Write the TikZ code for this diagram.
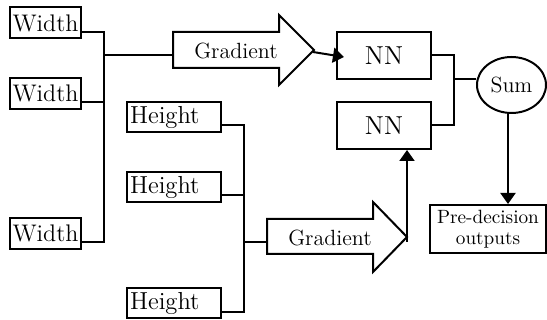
\documentclass[tikz,border=0pt]{standalone}
\usetikzlibrary{shapes.geometric,arrows.meta}
\begin{document}
\begin{tikzpicture}[x=0.5pt,y=-0.5pt,line width=1pt,
  box/.style={draw,rectangle,inner sep=0pt},
  wbox/.style={box,minimum width=35.5pt,minimum height=15.5pt,font=\fontsize{12}{14}\selectfont},
  hbox/.style={box,minimum height=15pt,text width=44pt,inner xsep=1.5pt,align=left,font=\fontsize{12.3}{14}\selectfont},
  nnbox/.style={box,minimum width=47pt,minimum height=23.5pt,font=\fontsize{13}{15}\selectfont},
  gtext/.style={inner sep=0pt,font=\fontsize{11}{13}\selectfont},
  arr/.style={-{Triangle[length=5.5pt,width=7.5pt]}}]
\useasboundingbox (0,0) rectangle (547,320);

% input boxes
\node[wbox] (W1) at (45.5,23) {Width};
\node[wbox] (W2) at (45.5,93.5) {Width};
\node[wbox] (W3) at (45.5,233.5) {Width};
\node[hbox] (H1) at (174,117) {Height};
\node[hbox] (H2) at (174,187) {Height};
\node[hbox] (H3) at (174,303.5) {Height};

% networks, sum and output
\node[nnbox] (NN1) at (384,55.5) {NN};
\node[nnbox] (NN2) at (384,125.5) {NN};
\node[draw,ellipse,inner sep=0pt,minimum width=34.5pt,minimum height=28pt,
      font=\fontsize{11}{13}\selectfont] (Sum) at (511.5,85) {Sum};
\node[box,minimum width=58pt,minimum height=24pt,align=center,
      font=\fontsize{9.6}{10.5}\selectfont] (Pre) at (488,229) {Pre-decision\\outputs};

% block arrows labelled Gradient
\draw (173,32) -- (279,32) -- (279,15) -- (314,50) -- (279,85) -- (279,68) -- (173,68) -- cycle;
\node[gtext] (G1) at (236,51) {Gradient};
\coordinate (G1in) at (173,55);
\coordinate (G1out) at (313,52);
\draw (267,219) -- (373,219) -- (373,202) -- (407,237) -- (373,272) -- (373,254) -- (267,254) -- cycle;
\node[gtext] (G2) at (330,238) {Gradient};
\coordinate (G2in) at (267,242);
\coordinate (G2out) at (407,242);

% width bus
\coordinate (w1p) at ([yshift=-4.5pt]W1.east);
\coordinate (w2p) at ([yshift=-4.25pt]W2.east);
\coordinate (w3p) at ([yshift=-4.25pt]W3.east);
\coordinate (wb) at (104,55);
\draw (w1p) -- (w1p -| wb) -- (w3p -| wb) -- (w3p);
\draw (w2p) -- (w2p -| wb);
\draw (wb) -- (G1in);

% height bus
\coordinate (h1p) at ([yshift=-4pt]H1.east);
\coordinate (h2p) at ([yshift=-4pt]H2.east);
\coordinate (h3p) at ([yshift=-4.25pt]H3.east);
\coordinate (hb) at (244,242);
\draw (h1p) -- (h1p -| hb) -- (h3p -| hb) -- (h3p);
\draw (h2p) -- (h2p -| hb);
\draw (hb) -- (G2in);

% into the networks
\draw[arr] (G1out) -- ([xshift=4pt,yshift=-0.75pt]NN1.west);
\draw[arr] (G2out) -- (G2out |- NN2.south);

% networks to sum, sum to output
\coordinate (nb) at (454,79);
\draw (NN1.east) -| (nb) |- (NN2.east);
\draw (nb) -- (nb -| Sum.west);
\draw[arr] ([xshift=-1.75pt]Sum.south) -- ([xshift=-1.75pt]Sum.south |- Pre.north);
\end{tikzpicture}
\end{document}
